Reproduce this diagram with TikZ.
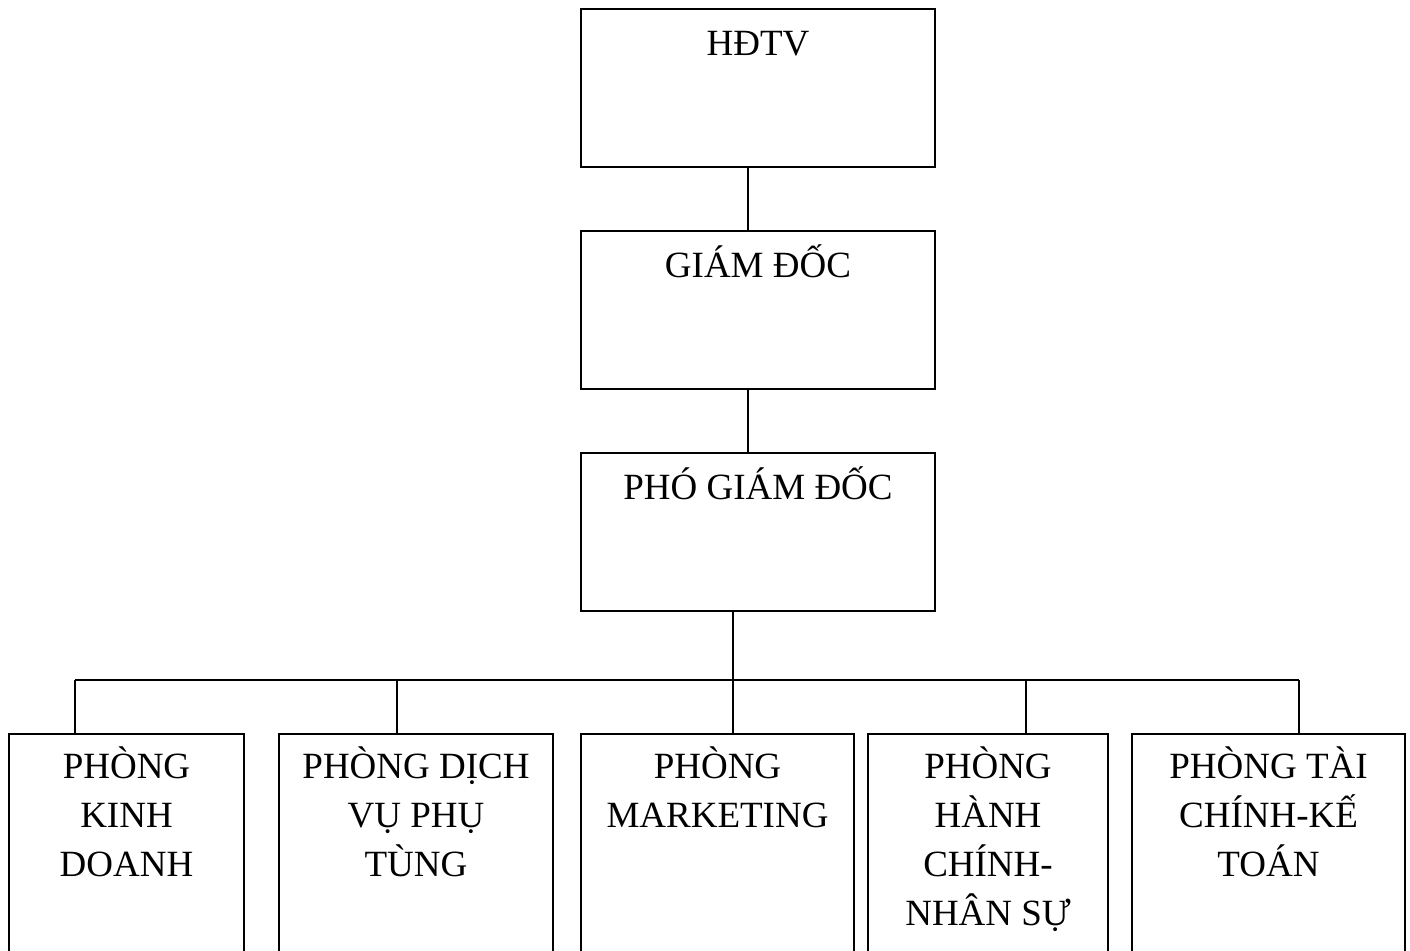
\documentclass[tikz,border=0pt]{standalone}
\usepackage{fontspec}
\setmainfont{Liberation Serif}
\usetikzlibrary{calc}
\begin{document}
\begin{tikzpicture}[x=1pt,y=-1pt,
  box/.style={draw=black,line width=2pt,rectangle,inner sep=0pt,anchor=north west},
  lbl/.style={inner sep=0pt,anchor=north,align=center,font=\fontsize{37}{49}\selectfont},
  wire/.style={draw=black,line width=2pt}]
\useasboundingbox (0,0) rectangle (1410,950);
\clip (0,0) rectangle (1410,950);
% top boxes
\node[box,minimum width=354pt,minimum height=158pt] (hdtv) at (580,8) {};
\node[box,minimum width=354pt,minimum height=158pt] (gd) at (580,230) {};
\node[box,minimum width=354pt,minimum height=158pt] (pgd) at (580,452) {};
\node[lbl] (thdtv) at ($(hdtv.north)+(0,9)$) {\rule{0pt}{38pt}HĐTV};
\node[lbl] (tgd) at ($(gd.north)+(0,9)$) {\rule{0pt}{38pt}GIÁM ĐỐC};
\node[lbl] (tpgd) at ($(pgd.north)+(0,9)$) {\rule{0pt}{38pt}PHÓ GIÁM ĐỐC};
% bottom boxes
\node[box,minimum width=235pt,minimum height=240pt] (p1) at (8,733) {};
\node[box,minimum width=274pt,minimum height=240pt] (p2) at (278,733) {};
\node[box,minimum width=273pt,minimum height=240pt] (p3) at (580,733) {};
\node[box,minimum width=240pt,minimum height=240pt] (p4) at (867,733) {};
\node[box,minimum width=273pt,minimum height=240pt] (p5) at (1131,733) {};
\node[lbl] (t1) at ($(p1.north)+(0,7)$) {\rule{0pt}{38pt}PHÒNG\\KINH\\DOANH};
\node[lbl] (t2) at ($(p2.north)+(0,7)$) {\rule{0pt}{38pt}PHÒNG DỊCH\\VỤ PHỤ\\TÙNG};
\node[lbl] (t3) at ($(p3.north)+(0,7)$) {\rule{0pt}{38pt}PHÒNG\\MARKETING};
\node[lbl] (t4) at ($(p4.north)+(0,7)$) {\rule{0pt}{38pt}PHÒNG\\HÀNH\\CHÍNH-\\NHÂN SỰ};
\node[lbl] (t5) at ($(p5.north)+(0,7)$) {\rule{0pt}{38pt}PHÒNG TÀI\\CHÍNH-KẾ\\TOÁN};
% connectors
\coordinate (bus) at (733,680);
\draw[wire] (hdtv.south -| 748,0) -- (gd.north -| 748,0);
\draw[wire] (gd.south -| 748,0) -- (pgd.north -| 748,0);
\draw[wire] (pgd.south -| bus) -- (bus);
\draw[wire] (bus -| 75,0) -- (bus -| 1299,0);
\draw[wire] (bus -| 75,0) -- (p1.north -| 75,0);
\draw[wire] (bus -| 397,0) -- (p2.north -| 397,0);
\draw[wire] (bus) -- (p3.north -| bus);
\draw[wire] (bus -| 1026,0) -- (p4.north -| 1026,0);
\draw[wire] (bus -| 1299,0) -- (p5.north -| 1299,0);
\end{tikzpicture}
\end{document}
